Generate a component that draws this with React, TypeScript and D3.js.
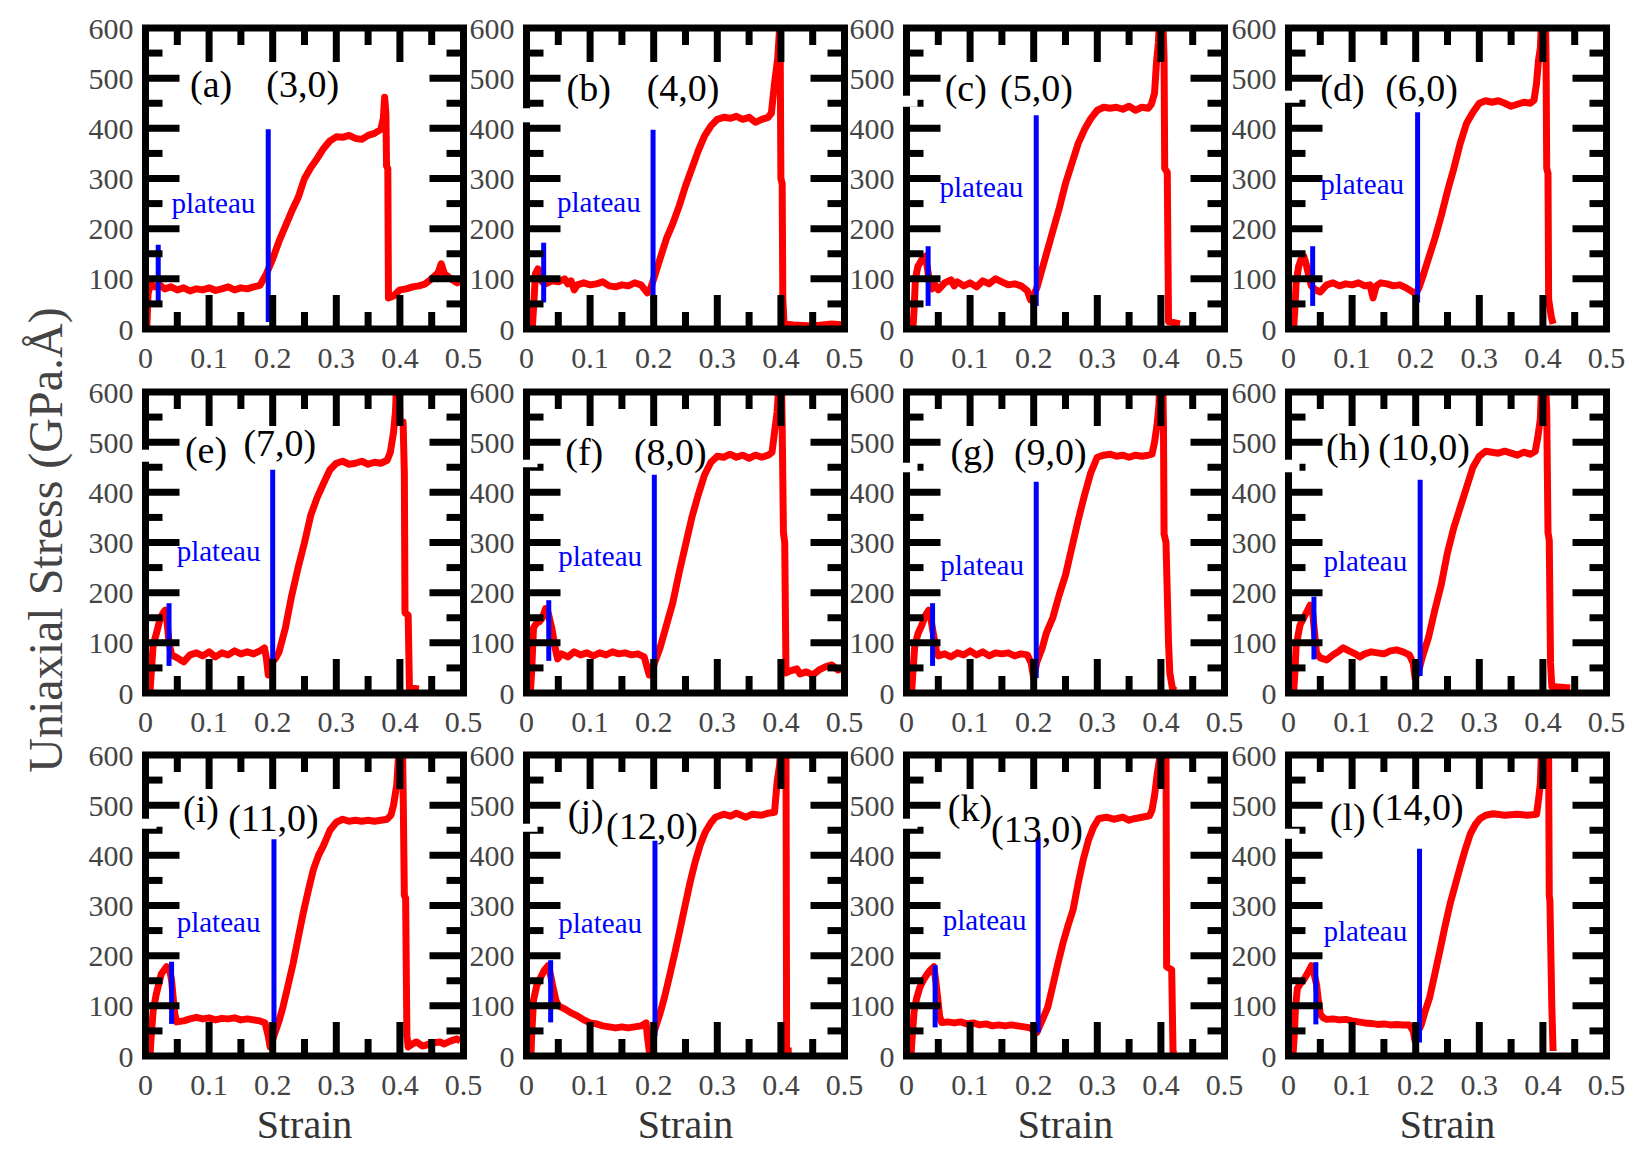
import React from "react";
import * as d3 from "d3";

// stress-strain curves, [strain, stress (GPa.Å)]
const curve3 = [[0.002,0],[0.004,70],[0.008,90],[0.015,84],[0.022,88],[0.03,80],[0.04,84],[0.05,78],[0.06,82],[0.07,76],[0.08,80],[0.09,78],[0.1,82],[0.11,77],[0.12,80],[0.13,84],[0.14,78],[0.15,82],[0.16,80],[0.17,84],[0.18,87],[0.19,110],[0.2,140],[0.21,175],[0.22,205],[0.23,235],[0.24,262],[0.25,300],[0.26,322],[0.27,340],[0.28,360],[0.29,375],[0.3,383],[0.31,382],[0.32,386],[0.33,380],[0.34,378],[0.35,386],[0.36,390],[0.37,398],[0.374,420],[0.376,462],[0.378,430],[0.379,325],[0.381,320],[0.382,62],[0.39,66],[0.4,78],[0.41,80],[0.42,84],[0.43,86],[0.44,90],[0.45,100],[0.46,112],[0.465,130],[0.47,110],[0.48,100],[0.49,92],[0.495,95]];
const curve4 = [[0.009,0],[0.011,40],[0.014,110],[0.018,120],[0.022,98],[0.026,92],[0.03,90],[0.04,96],[0.05,94],[0.06,100],[0.065,90],[0.07,96],[0.075,78],[0.08,88],[0.09,92],[0.1,88],[0.11,90],[0.12,94],[0.13,86],[0.14,84],[0.15,88],[0.16,86],[0.17,92],[0.18,88],[0.19,72],[0.195,80],[0.2,100],[0.21,140],[0.22,180],[0.23,210],[0.24,245],[0.25,285],[0.26,320],[0.27,355],[0.28,385],[0.29,405],[0.3,418],[0.31,422],[0.32,420],[0.33,424],[0.34,418],[0.35,422],[0.36,412],[0.37,418],[0.38,422],[0.385,430],[0.39,490],[0.395,540],[0.398,600],[0.399,540],[0.4,300],[0.402,290],[0.403,60],[0.405,10],[0.42,8],[0.45,6],[0.48,10],[0.5,8]];
const curve5 = [[0.01,0],[0.012,40],[0.014,100],[0.018,125],[0.024,138],[0.03,145],[0.033,120],[0.036,96],[0.04,80],[0.045,88],[0.05,78],[0.06,92],[0.07,98],[0.075,86],[0.08,94],[0.09,86],[0.1,92],[0.11,84],[0.12,96],[0.13,90],[0.14,100],[0.15,94],[0.16,88],[0.17,90],[0.18,86],[0.19,76],[0.195,58],[0.2,68],[0.205,82],[0.21,105],[0.22,150],[0.23,195],[0.24,240],[0.25,290],[0.26,330],[0.27,370],[0.28,398],[0.29,420],[0.3,436],[0.31,442],[0.32,440],[0.33,442],[0.34,438],[0.35,444],[0.36,436],[0.37,442],[0.38,440],[0.385,448],[0.39,470],[0.393,530],[0.396,570],[0.398,620],[0.403,620],[0.405,540],[0.406,320],[0.41,312],[0.412,15],[0.43,10]];
const curve6 = [[0.008,0],[0.01,40],[0.012,92],[0.016,125],[0.02,140],[0.024,145],[0.028,128],[0.032,105],[0.036,86],[0.042,78],[0.05,74],[0.06,88],[0.07,92],[0.08,86],[0.09,90],[0.1,88],[0.11,92],[0.12,86],[0.128,88],[0.133,62],[0.138,86],[0.145,92],[0.155,90],[0.165,86],[0.175,88],[0.185,82],[0.195,74],[0.2,70],[0.205,82],[0.21,100],[0.22,140],[0.23,180],[0.24,225],[0.25,275],[0.26,320],[0.27,370],[0.28,410],[0.29,432],[0.3,450],[0.31,455],[0.32,452],[0.33,455],[0.34,450],[0.35,444],[0.36,448],[0.37,452],[0.38,450],[0.386,456],[0.39,490],[0.393,535],[0.396,560],[0.398,620],[0.404,620],[0.405,535],[0.406,320],[0.408,310],[0.409,60],[0.413,25],[0.416,10]];
const curve7 = [[0.007,0],[0.009,40],[0.012,95],[0.017,118],[0.023,148],[0.028,160],[0.031,165],[0.034,140],[0.037,100],[0.041,76],[0.05,70],[0.06,62],[0.07,76],[0.08,80],[0.09,74],[0.1,82],[0.11,72],[0.12,80],[0.13,76],[0.14,84],[0.15,78],[0.16,82],[0.17,78],[0.18,84],[0.187,90],[0.19,70],[0.193,36],[0.198,60],[0.205,70],[0.21,82],[0.22,130],[0.23,195],[0.24,250],[0.25,300],[0.26,355],[0.27,390],[0.28,418],[0.29,445],[0.3,458],[0.31,462],[0.32,456],[0.33,458],[0.34,462],[0.35,456],[0.36,460],[0.37,458],[0.38,464],[0.385,480],[0.39,520],[0.393,560],[0.395,620],[0.399,620],[0.4,540],[0.405,540],[0.407,438],[0.408,160],[0.413,155],[0.415,10],[0.43,8]];
const curve8 = [[0.006,0],[0.008,40],[0.011,130],[0.016,140],[0.02,142],[0.025,150],[0.03,168],[0.034,160],[0.04,128],[0.045,90],[0.049,68],[0.055,78],[0.065,72],[0.075,82],[0.085,76],[0.095,80],[0.105,74],[0.115,80],[0.125,76],[0.135,82],[0.145,78],[0.155,80],[0.165,76],[0.175,78],[0.185,72],[0.193,36],[0.2,55],[0.21,90],[0.22,135],[0.23,180],[0.24,240],[0.25,295],[0.26,350],[0.27,395],[0.28,435],[0.29,460],[0.3,472],[0.31,470],[0.32,476],[0.33,470],[0.34,474],[0.35,468],[0.36,474],[0.37,470],[0.38,474],[0.386,480],[0.39,520],[0.394,560],[0.397,620],[0.401,620],[0.402,533],[0.404,320],[0.406,300],[0.408,40],[0.415,44],[0.425,48],[0.43,38],[0.44,42],[0.45,36],[0.46,46],[0.47,52],[0.48,56],[0.49,46],[0.498,50]];
const curve9 = [[0.008,0],[0.01,40],[0.013,94],[0.018,118],[0.023,132],[0.03,155],[0.035,165],[0.038,150],[0.042,120],[0.047,84],[0.05,74],[0.06,78],[0.07,72],[0.08,80],[0.09,76],[0.1,84],[0.11,76],[0.12,82],[0.13,74],[0.14,80],[0.15,78],[0.16,80],[0.17,74],[0.18,78],[0.19,76],[0.196,60],[0.2,30],[0.205,62],[0.213,88],[0.22,120],[0.23,150],[0.24,195],[0.25,235],[0.26,290],[0.27,345],[0.28,395],[0.29,440],[0.3,470],[0.31,474],[0.32,476],[0.33,472],[0.34,474],[0.35,470],[0.36,474],[0.37,472],[0.38,474],[0.386,476],[0.39,500],[0.394,535],[0.397,575],[0.398,620],[0.403,620],[0.404,540],[0.405,317],[0.408,300],[0.412,100],[0.414,40],[0.418,10],[0.422,5]];
const curve10 = [[0.008,0],[0.01,40],[0.012,94],[0.018,135],[0.026,155],[0.034,175],[0.038,160],[0.041,120],[0.044,80],[0.05,70],[0.06,66],[0.07,76],[0.08,84],[0.086,90],[0.095,84],[0.105,78],[0.112,72],[0.12,78],[0.13,82],[0.14,80],[0.15,78],[0.16,84],[0.17,86],[0.18,82],[0.19,76],[0.196,60],[0.199,30],[0.205,45],[0.21,70],[0.22,110],[0.23,165],[0.24,215],[0.25,280],[0.26,330],[0.27,370],[0.28,410],[0.29,450],[0.3,472],[0.31,482],[0.32,480],[0.33,478],[0.34,482],[0.35,478],[0.36,474],[0.37,480],[0.38,476],[0.388,482],[0.392,510],[0.396,546],[0.398,620],[0.404,620],[0.406,566],[0.408,320],[0.41,305],[0.412,60],[0.414,13],[0.443,10]];
const curve11 = [[0.007,0],[0.009,40],[0.012,90],[0.017,124],[0.025,164],[0.033,178],[0.038,172],[0.041,151],[0.044,110],[0.046,84],[0.049,68],[0.06,70],[0.07,74],[0.08,77],[0.09,74],[0.1,76],[0.11,72],[0.12,75],[0.13,74],[0.14,76],[0.15,72],[0.16,74],[0.17,72],[0.18,70],[0.188,66],[0.193,40],[0.196,18],[0.203,44],[0.21,70],[0.216,97],[0.224,140],[0.232,184],[0.24,235],[0.248,285],[0.256,330],[0.264,372],[0.272,400],[0.28,420],[0.29,450],[0.3,466],[0.31,472],[0.32,468],[0.33,470],[0.34,468],[0.35,470],[0.36,468],[0.37,470],[0.38,472],[0.386,480],[0.39,500],[0.395,540],[0.399,620],[0.404,620],[0.405,540],[0.407,320],[0.409,315],[0.411,40],[0.413,18],[0.42,24],[0.426,28],[0.435,20],[0.442,22],[0.45,26],[0.463,28],[0.47,24],[0.48,30],[0.49,34],[0.495,30]];
const curve12 = [[0.007,0],[0.008,37],[0.011,111],[0.016,140],[0.02,151],[0.028,171],[0.034,180],[0.038,160],[0.042,135],[0.046,112],[0.05,100],[0.06,94],[0.07,86],[0.08,80],[0.09,72],[0.1,66],[0.11,64],[0.12,60],[0.13,58],[0.14,56],[0.15,58],[0.16,56],[0.17,58],[0.18,60],[0.188,66],[0.19,40],[0.193,10],[0.197,40],[0.201,50],[0.21,85],[0.217,117],[0.225,160],[0.233,204],[0.241,250],[0.249,298],[0.257,345],[0.265,386],[0.273,420],[0.281,446],[0.29,465],[0.297,476],[0.31,482],[0.321,478],[0.33,484],[0.345,476],[0.355,482],[0.37,480],[0.38,484],[0.39,486],[0.394,546],[0.398,580],[0.4,620],[0.408,620],[0.409,10],[0.417,10]];
const curve13 = [[0.007,0],[0.009,40],[0.012,90],[0.016,115],[0.021,137],[0.027,152],[0.033,164],[0.038,172],[0.043,178],[0.046,150],[0.049,117],[0.052,80],[0.055,67],[0.065,68],[0.075,66],[0.085,68],[0.095,64],[0.105,66],[0.115,62],[0.125,64],[0.135,60],[0.145,62],[0.155,60],[0.165,62],[0.175,60],[0.185,58],[0.195,56],[0.2,50],[0.205,47],[0.213,70],[0.222,97],[0.23,140],[0.238,184],[0.246,225],[0.254,260],[0.262,292],[0.27,345],[0.278,392],[0.286,430],[0.294,456],[0.302,473],[0.314,476],[0.326,472],[0.34,476],[0.35,470],[0.358,473],[0.37,476],[0.382,479],[0.386,490],[0.39,519],[0.394,560],[0.398,593],[0.4,620],[0.408,620],[0.409,178],[0.417,172],[0.419,10],[0.421,5]];
const curve14 = [[0.007,0],[0.009,40],[0.011,97],[0.014,135],[0.018,143],[0.024,152],[0.029,163],[0.033,172],[0.036,180],[0.04,165],[0.044,143],[0.047,110],[0.05,83],[0.055,76],[0.06,73],[0.07,74],[0.08,72],[0.09,73],[0.1,70],[0.11,68],[0.12,66],[0.13,65],[0.14,63],[0.15,64],[0.16,62],[0.17,63],[0.18,62],[0.19,62],[0.196,50],[0.199,30],[0.204,50],[0.209,63],[0.215,90],[0.222,117],[0.23,163],[0.238,210],[0.246,258],[0.254,303],[0.262,340],[0.27,377],[0.278,412],[0.286,443],[0.294,462],[0.301,473],[0.31,480],[0.322,483],[0.34,480],[0.359,482],[0.375,480],[0.39,482],[0.393,510],[0.396,543],[0.398,620],[0.406,620],[0.409,590],[0.41,320],[0.411,310],[0.414,100],[0.416,10]];

const curves = [curve3, curve4, curve5, curve6, curve7, curve8, curve9, curve10, curve11, curve12, curve13, curve14];
const panelTags = ["(a)", "(b)", "(c)", "(d)", "(e)", "(f)", "(g)", "(h)", "(i)", "(j)", "(k)", "(l)"];
const tubeNames = ["(3,0)", "(4,0)", "(5,0)", "(6,0)", "(7,0)", "(8,0)", "(9,0)", "(10,0)", "(11,0)", "(12,0)", "(13,0)", "(14,0)"];

// blue markers: [strain, stress low, stress high]
const plateauStart = [[0.02,50,168],[0.027,53,172],[0.034,46,165],[0.038,46,165],[0.037,54,179],[0.035,64,185],[0.041,54,179],[0.04,67,192],[0.041,64,188],[0.038,67,191],[0.045,57,181],[0.043,63,187]];
const plateauEnd = [[0.193,14,398],[0.199,17,397],[0.204,46,426],[0.203,53,432],[0.2,54,445],[0.201,44,435],[0.204,30,421],[0.207,34,425],[0.202,44,432],[0.202,40,429],[0.207,47,436],[0.206,27,413]];

// text anchors in data units: [strain, stress]
const tagAt = [[0.07,462],[0.063,455],[0.06,455],[0.05,455],[0.062,459],[0.061,455],[0.069,455],[0.059,465],[0.059,466],[0.065,459],[0.065,469],[0.065,450]];
const nameAt = [[0.19,462],[0.189,455],[0.147,455],[0.152,455],[0.154,472],[0.169,455],[0.169,455],[0.141,465],[0.13,449],[0.125,432],[0.133,426],[0.131,470]];
const plateauAt = [[0.041,231],[0.048,234],[0.052,264],[0.05,270],[0.049,263],[0.05,253],[0.053,236],[0.055,243],[0.049,248],[0.05,245],[0.057,251],[0.055,230]];
// small gaps in the left frame (stress range)
const frameGaps = [null,[412,440],[443,465],[451,475],[461,485],[450,465],[440,459],[440,465],[453,473],[447,463],[453,473],[433,453]];

const xTickLabels = ["0", "0.1", "0.2", "0.3", "0.4", "0.5"];
const yTickLabels = ["0", "100", "200", "300", "400", "500", "600"];

const W = 1647;
const H = 1155;
const colX = [145.5, 526.5, 906.5, 1288.5];
const rowY = [28, 392, 755];
const PW = 318;
const PH = 301;
const serif = "'Liberation Serif', 'Times New Roman', serif";

function Panel({ i }: { i: number }) {
  const left = colX[i % 4];
  const top = rowY[Math.floor(i / 4)];
  const x = d3.scaleLinear().domain([0, 0.5]).range([left, left + PW]);
  const y = d3.scaleLinear().domain([0, 600]).range([top + PH, top]);
  const line = d3
    .line<number[]>()
    .x((d) => x(d[0]))
    .y((d) => y(d[1]));
  const clipId = `clip${i}`;
  const xMajor = d3.range(0.1, 0.45, 0.1);
  const xMinor = d3.range(0.05, 0.5, 0.1);
  const yMajor = d3.range(100, 550, 100);
  const yMinor = d3.range(50, 600, 100);
  const longT = 34;
  const shortT = 17;
  const tick = { stroke: "#000", strokeWidth: 7 };
  const gap = frameGaps[i];
  const [ps, pe] = [plateauStart[i], plateauEnd[i]];

  return (
    <g>
      <clipPath id={clipId}>
        <rect x={left} y={top} width={PW} height={PH} />
      </clipPath>
      <path
        d={line(curves[i]) || ""}
        fill="none"
        stroke="#ff0000"
        strokeWidth={7}
        strokeLinejoin="round"
        clipPath={`url(#${clipId})`}
      />
      <line x1={x(ps[0])} x2={x(ps[0])} y1={y(ps[1])} y2={y(ps[2])} stroke="#0000ff" strokeWidth={5} />
      <line x1={x(pe[0])} x2={x(pe[0])} y1={y(pe[1])} y2={y(pe[2])} stroke="#0000ff" strokeWidth={5} />

      {/* ticks on all four sides */}
      {xMajor.map((t) => (
        <g key={`xm${t}`}>
          <line x1={x(t)} x2={x(t)} y1={y(0)} y2={y(0) - longT} {...tick} />
          <line x1={x(t)} x2={x(t)} y1={y(600)} y2={y(600) + longT} {...tick} />
        </g>
      ))}
      {xMinor.map((t) => (
        <g key={`xn${t}`}>
          <line x1={x(t)} x2={x(t)} y1={y(0)} y2={y(0) - shortT} {...tick} />
          <line x1={x(t)} x2={x(t)} y1={y(600)} y2={y(600) + shortT} {...tick} />
        </g>
      ))}
      {yMajor.map((t) => (
        <g key={`ym${t}`}>
          <line x1={x(0)} x2={x(0) + longT} y1={y(t)} y2={y(t)} {...tick} />
          <line x1={x(0.5)} x2={x(0.5) - longT} y1={y(t)} y2={y(t)} {...tick} />
        </g>
      ))}
      {yMinor.map((t) => (
        <g key={`yn${t}`}>
          <line x1={x(0)} x2={x(0) + shortT} y1={y(t)} y2={y(t)} {...tick} />
          <line x1={x(0.5)} x2={x(0.5) - shortT} y1={y(t)} y2={y(t)} {...tick} />
        </g>
      ))}
      <rect x={left} y={top} width={PW} height={PH} fill="none" stroke="#000" strokeWidth={7} />
      {gap && (
        <rect x={x(0) - 5} y={y(gap[1])} width={16} height={y(gap[0]) - y(gap[1])} fill="#fff" />
      )}

      {/* tick labels */}
      {xTickLabels.map((lab, k) => (
        <text key={`xl${k}`} x={x(k * 0.1)} y={y(0) + 39} textAnchor="middle" fontFamily={serif} fontSize={30} fill="#444">
          {lab}
        </text>
      ))}
      {yTickLabels.map((lab, k) => (
        <text key={`yl${k}`} x={x(0) - 12} y={y(k * 100)} dy="0.35em" textAnchor="end" fontFamily={serif} fontSize={30} fill="#444">
          {lab}
        </text>
      ))}

      {/* annotations */}
      <text x={x(tagAt[i][0])} y={y(tagAt[i][1])} fontFamily={serif} fontSize={38} fill="#000">
        {panelTags[i]}
      </text>
      <text x={x(nameAt[i][0])} y={y(nameAt[i][1])} fontFamily={serif} fontSize={38} fill="#000">
        {tubeNames[i]}
      </text>
      <text x={x(plateauAt[i][0])} y={y(plateauAt[i][1])} fontFamily={serif} fontSize={29} fill="#0000ff">
        plateau
      </text>
    </g>
  );
}

export default function App() {
  return (
    <svg
      width={W}
      height={H}
      viewBox={`0 0 ${W} ${H}`}
      style={{ position: "absolute", left: 0, top: 0, background: "#fff" }}
    >
      <rect width={W} height={H} fill="#fff" />
      {curves.map((_, i) => (
        <Panel key={i} i={i} />
      ))}
      {colX.map((cx, k) => (
        <text key={`st${k}`} x={cx + PW / 2} y={1138} textAnchor="middle" fontFamily={serif} fontSize={40} fill="#333">
          Strain
        </text>
      ))}
      <text
        x={62}
        y={540}
        transform="rotate(-90 62 540)"
        textAnchor="middle"
        fontFamily={serif}
        fontSize={48}
        fill="#444"
      >
        Uniaxial Stress (GPa.Å)
      </text>
    </svg>
  );
}
